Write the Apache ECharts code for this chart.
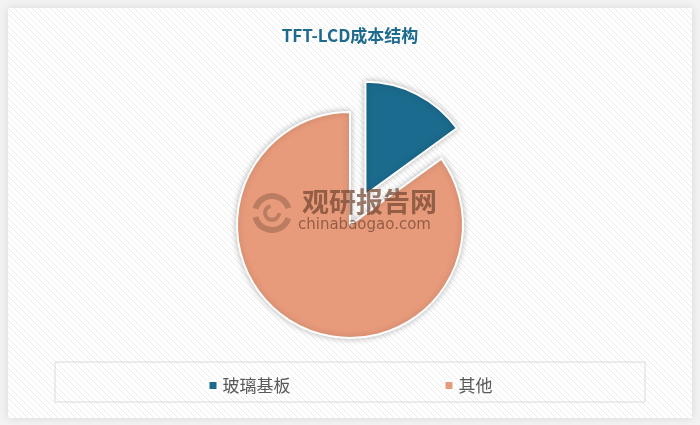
<!DOCTYPE html>
<html><head><meta charset="utf-8">
<script src="https://cdn.jsdelivr.net/npm/echarts@6/dist/echarts.min.js"></script>
<style>html,body{margin:0;padding:0;background:#f3f3f3}#c{width:700px;height:425px}</style>
</head><body><div id="c"></div>
<script>
const titleText = 'TFT-LCD成本结构';
const categories = ['玻璃基板', '其他'];
const values = [15, 85];
const colors = ['#1b6b8e', '#e89b7b'];

const pc = document.createElement('canvas');
pc.width = 6; pc.height = 6;
const g = pc.getContext('2d');
g.fillStyle = '#ffffff'; g.fillRect(0, 0, 6, 6);
g.strokeStyle = '#ececec'; g.lineWidth = 1;
g.beginPath(); g.moveTo(0, 0); g.lineTo(6, 6); g.moveTo(-3, 3); g.lineTo(3, 9); g.moveTo(3, -3); g.lineTo(9, 3); g.stroke();

const chart = echarts.init(document.getElementById('c'), null, {renderer: 'canvas'});
chart.setOption({
  backgroundColor: '#f3f3f3',
  animation: false,
  title: {
    text: titleText, left: 'center', top: 22,
    textStyle: {fontFamily: 'Noto Sans CJK SC', fontSize: 17, fontWeight: 'bold', color: '#1d6a8e'}
  },
  graphic: [
    {type: 'rect', z: -10, shape: {x: 8, y: 8, width: 684, height: 410},
     style: {fill: {image: pc, repeat: 'repeat'}, shadowBlur: 8, shadowColor: 'rgba(0,0,0,0.12)'}},
    {type: 'rect', z: -5, shape: {x: 55, y: 362, width: 590, height: 40},
     style: {fill: 'rgba(255,255,255,0)', stroke: '#d9d9d9', lineWidth: 1}},
    {type: 'text', z: 100, left: 302, top: 188,
     style: {text: '观研报告网', fontFamily: 'Noto Sans CJK SC', fontSize: 27, fontWeight: 'bold', fill: 'rgba(115,70,50,0.72)'}},
    {type: 'text', z: 100, left: 298, top: 218,
     style: {text: 'chinabaogao.com', fontFamily: 'DejaVu Sans', fontSize: 15, fill: 'rgba(115,70,50,0.72)'}},
    {type: 'arc', z: 100, shape: {cx: 272, cy: 213, r: 17, startAngle: 3.4, endAngle: 6.0},
     style: {stroke: 'rgba(120,80,60,0.4)', lineWidth: 6, fill: null}},
    {type: 'arc', z: 100, shape: {cx: 272, cy: 213, r: 17, startAngle: 0.3, endAngle: 2.9},
     style: {stroke: 'rgba(120,80,60,0.4)', lineWidth: 6, fill: null}},
    {type: 'arc', z: 100, shape: {cx: 272, cy: 213, r: 7, startAngle: 0, endAngle: 4.5},
     style: {stroke: 'rgba(120,80,60,0.4)', lineWidth: 4, fill: null}}
  ],
  legend: {
    data: categories, left: 'center', top: 372,
    itemWidth: 9, itemHeight: 9, itemGap: 153, icon: 'rect',
    textStyle: {fontFamily: 'Noto Sans CJK SC', fontSize: 17, color: '#595959'}
  },
  series: [{
    type: 'pie',
    center: [350, 225], radius: 113,
    startAngle: 90, clockwise: true,
    selectedMode: 'single', selectedOffset: 34,
    label: {show: false}, labelLine: {show: false},
    itemStyle: {borderColor: '#ffffff', borderWidth: 2, shadowBlur: 6, shadowColor: 'rgba(0,0,0,0.25)'},
    data: categories.map((n, i) => ({name: n, value: values[i], selected: i === 0, itemStyle: {color: colors[i]}}))
  }]
});
</script></body></html>
